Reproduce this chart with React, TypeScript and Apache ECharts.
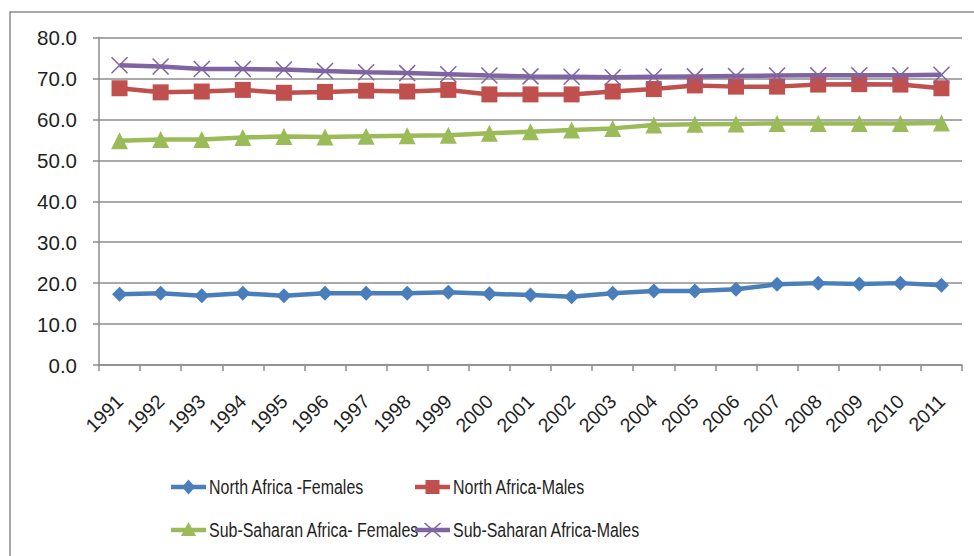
import React, { useEffect, useRef } from "react";
import * as echarts from "echarts";

const years = [
  "1991", "1992", "1993", "1994", "1995", "1996", "1997", "1998", "1999", "2000", "2001",
  "2002", "2003", "2004", "2005", "2006", "2007", "2008", "2009", "2010", "2011",
];

const northAfricaFemales = [
  17.3, 17.5, 16.9, 17.5, 16.9, 17.5, 17.5, 17.5, 17.8, 17.4, 17.1,
  16.7, 17.5, 18.1, 18.1, 18.5, 19.7, 20.0, 19.8, 20.0, 19.5,
];
const northAfricaMales = [
  67.6, 66.6, 66.8, 67.2, 66.5, 66.7, 67.0, 66.8, 67.2, 66.1, 66.1,
  66.1, 66.8, 67.4, 68.3, 68.0, 68.0, 68.5, 68.6, 68.5, 67.6,
];
const subSaharanFemales = [
  54.8, 55.1, 55.1, 55.6, 55.8, 55.7, 55.9, 56.0, 56.1, 56.6, 57.0,
  57.4, 57.8, 58.6, 58.8, 58.9, 59.0, 59.0, 59.0, 59.0, 59.1,
];
const subSaharanMales = [
  73.2, 72.9, 72.3, 72.3, 72.2, 71.8, 71.5, 71.3, 71.0, 70.7, 70.5,
  70.4, 70.3, 70.4, 70.5, 70.6, 70.7, 70.8, 70.8, 70.8, 70.9,
];

const seriesNames = [
  "North Africa -Females",
  "North Africa-Males",
  "Sub-Saharan Africa- Females",
  "Sub-Saharan Africa-Males",
];

const BLUE = "#4a7ebb";
const RED = "#c0504d";
const GREEN = "#9bbb59";
const PURPLE = "#8064a2";
const AXIS_GRAY = "#8c8c8c";
const TEXT = "#1f1f1f";
const FONT = "'Liberation Sans', Arial, sans-serif";

const crossSymbol = "path://M0,0 L10,10 M10,0 L0,10";

// Legend key: a short line with the series marker, followed by a condensed label.
function legendEntry(
  name: string,
  color: string,
  marker: "diamond" | "square" | "triangle" | "cross",
  x0: number,
  yc: number
) {
  const cx = x0 + 17.5;
  const children: any[] = [
    {
      type: "line",
      shape: { x1: x0, y1: yc, x2: x0 + 35, y2: yc },
      style: { stroke: color, lineWidth: 4.5 },
    },
  ];
  if (marker === "diamond") {
    children.push({
      type: "polygon",
      shape: { points: [[cx, yc - 7.5], [cx + 6.5, yc], [cx, yc + 7.5], [cx - 6.5, yc]] },
      style: { fill: color },
    });
  } else if (marker === "square") {
    children.push({
      type: "rect",
      shape: { x: cx - 7, y: yc - 7, width: 14, height: 14 },
      style: { fill: color },
    });
  } else if (marker === "triangle") {
    children.push({
      type: "polygon",
      shape: { points: [[cx, yc - 8], [cx + 7.5, yc + 6], [cx - 7.5, yc + 6]] },
      style: { fill: color },
    });
  } else {
    children.push(
      {
        type: "line",
        shape: { x1: cx - 8, y1: yc - 7, x2: cx + 8, y2: yc + 7 },
        style: { stroke: color, lineWidth: 1.6 },
      },
      {
        type: "line",
        shape: { x1: cx - 8, y1: yc + 7, x2: cx + 8, y2: yc - 7 },
        style: { stroke: color, lineWidth: 1.6 },
      }
    );
  }
  children.push({
    type: "text",
    x: x0 + 38,
    y: yc,
    scaleX: 0.76,
    style: {
      text: name,
      fill: TEXT,
      font: `21px ${FONT}`,
      textVerticalAlign: "middle",
      verticalAlign: "middle",
    },
  });
  return { type: "group", silent: true, children };
}

export default function App() {
  const ref = useRef<HTMLDivElement>(null);

  useEffect(() => {
    if (!ref.current) return;
    const chart = echarts.init(ref.current, undefined, { renderer: "svg" });

    chart.setOption({
      animation: false,
      backgroundColor: "#ffffff",
      graphic: [
        {
          type: "rect",
          shape: { x: 10, y: 12, width: 1000, height: 600 },
          style: { fill: "none", stroke: AXIS_GRAY, lineWidth: 1.5 },
          silent: true,
        },
        legendEntry(seriesNames[0], BLUE, "diamond", 171, 487),
        legendEntry(seriesNames[1], RED, "square", 415, 487),
        legendEntry(seriesNames[2], GREEN, "triangle", 171, 530),
        legendEntry(seriesNames[3], PURPLE, "cross", 415, 530),
      ],
      grid: { left: 99, right: 12, top: 37.5, bottom: 191 },
      xAxis: {
        type: "category",
        data: years,
        boundaryGap: true,
        axisLine: { lineStyle: { color: AXIS_GRAY, width: 1.5 } },
        axisTick: { show: true, length: 6, lineStyle: { color: AXIS_GRAY, width: 1.5 } },
        axisLabel: {
          rotate: 45,
          margin: 33,
          interval: 0,
          fontFamily: FONT,
          fontSize: 19.5,
          color: TEXT,
        },
      },
      yAxis: {
        type: "value",
        min: 0,
        max: 80,
        interval: 10,
        axisLine: { show: true, lineStyle: { color: AXIS_GRAY, width: 1.5 } },
        axisTick: { show: true, length: 6, lineStyle: { color: AXIS_GRAY, width: 1.5 } },
        splitLine: { lineStyle: { color: AXIS_GRAY, width: 1.5 } },
        axisLabel: {
          margin: 22,
          fontFamily: FONT,
          fontSize: 20.5,
          color: TEXT,
          formatter: (v: number) => v.toFixed(1),
        },
      },
      series: [
        {
          name: seriesNames[0],
          type: "line",
          data: northAfricaFemales,
          symbol: "diamond",
          symbolSize: 15,
          lineStyle: { color: BLUE, width: 4.5 },
          itemStyle: { color: BLUE },
        },
        {
          name: seriesNames[1],
          type: "line",
          data: northAfricaMales,
          symbol: "rect",
          symbolSize: 16,
          lineStyle: { color: RED, width: 4.5 },
          itemStyle: { color: RED },
        },
        {
          name: seriesNames[2],
          type: "line",
          data: subSaharanFemales,
          symbol: "triangle",
          symbolSize: 17,
          lineStyle: { color: GREEN, width: 4.5 },
          itemStyle: { color: GREEN },
        },
        {
          name: seriesNames[3],
          type: "line",
          data: subSaharanMales,
          symbol: crossSymbol,
          symbolSize: 16,
          lineStyle: { color: PURPLE, width: 4.5 },
          itemStyle: { color: PURPLE, borderColor: PURPLE, borderWidth: 1.5 },
        },
      ],
    });

    return () => chart.dispose();
  }, []);

  return (
    <div
      ref={ref}
      style={{ position: "fixed", left: 0, top: 0, width: 974, height: 556 }}
    />
  );
}
